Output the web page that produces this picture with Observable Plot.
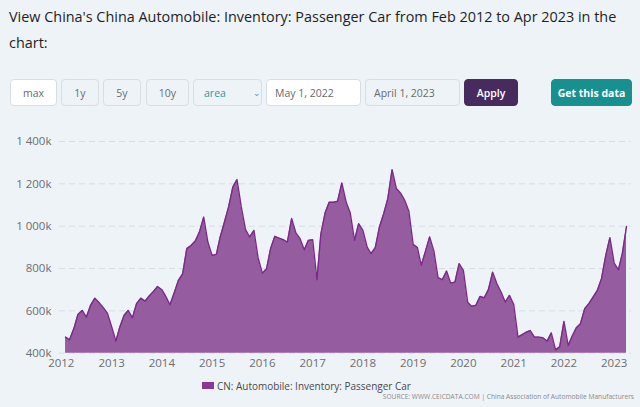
<!DOCTYPE html>
<html><head><meta charset="utf-8">
<script src="https://cdn.jsdelivr.net/npm/d3@7"></script>
<script src="https://cdn.jsdelivr.net/npm/@observablehq/plot@0.6"></script>
<style>
html,body{margin:0;padding:0;background:#eef3f8;width:640px;height:407px;overflow:hidden;font-family:"Open Sans",sans-serif;}
#title{position:absolute;left:9px;top:4px;font-size:16px;line-height:26px;color:#1f1f1f;white-space:nowrap;}
.btn{position:absolute;top:79px;height:27px;box-sizing:border-box;border:1px solid #d6dee6;border-radius:4px;font-size:10.5px;color:#6b6b6b;display:flex;align-items:center;justify-content:center;background:#eef3f8;}
.left{justify-content:flex-start;padding-left:8px;}
#chart{position:absolute;left:0;top:128px;}
#legend{position:absolute;left:202px;top:377px;height:17px;display:flex;align-items:center;font-size:11px;color:#4a4a4a;white-space:nowrap;}
#legend .sw{width:12px;height:7px;background:#8b3796;margin-right:3px;}
#source{position:absolute;right:6px;top:392px;font-size:7px;color:#8a8a8a;white-space:nowrap;}
</style></head>
<body>
<div id="title"><span id="t1">View China's China Automobile: Inventory: Passenger Car from Feb 2012 to Apr 2023 in the</span><br>chart:</div>
<div class="btn" style="left:10px;width:47px;background:#fff;">max</div>
<div class="btn" style="left:61px;width:38px;">1y</div>
<div class="btn" style="left:103px;width:38px;">5y</div>
<div class="btn" style="left:146px;width:43px;">10y</div>
<div class="btn left" style="left:193px;width:69px;padding-left:10px;color:#2a9a9b;">area<span style="position:absolute;left:59px;top:6px;color:#888;font-size:9px;">&#8964;</span></div>
<div class="btn left" style="left:266px;width:95px;background:#fff;">May 1, 2022</div>
<div class="btn left" style="left:365px;width:95px;">April 1, 2023</div>
<div class="btn" style="left:464px;width:54px;background:#472b5e;border-color:#472b5e;color:#fff;font-weight:600;">Apply</div>
<div class="btn" style="left:551px;width:81px;background:#17908f;border-color:#17908f;color:#fff;font-weight:700;">Get this data</div>
<div id="chart"></div>
<div id="legend"><div class="sw"></div><span id="legtext">CN: Automobile: Inventory: Passenger Car</span></div>
<div id="source">SOURCE: WWW.CEICDATA.COM | China Association of Automobile Manufacturers</div>
<script>
// Inventory, thousand units, monthly from Feb 2012 to Apr 2023
const v2012 = [476, 463, 515, 583, 602, 570, 626, 660, 640, 615, 589]; // Feb-Dec
const v2013 = [525, 457, 523, 578, 602, 567, 634, 660, 646, 670, 692, 715];
const v2014 = [700, 665, 629, 686, 744, 775, 894, 909, 930, 972, 1043, 925];
const v2015 = [862, 867, 949, 1020, 1091, 1185, 1220, 1091, 984, 949, 980, 851];
const v2016 = [778, 799, 894, 952, 944, 936, 925, 1036, 968, 941, 889, 933];
const v2017 = [936, 747, 961, 1062, 1113, 1113, 1118, 1204, 1114, 1062, 933, 1012];
const v2018 = [980, 901, 870, 899, 996, 1059, 1130, 1267, 1178, 1157, 1122, 1070];
const v2019 = [914, 899, 815, 882, 949, 882, 757, 747, 788, 731, 736, 823];
const v2020 = [791, 641, 622, 626, 668, 662, 700, 783, 728, 689, 641, 673];
const v2021 = [630, 476, 487, 499, 507, 476, 476, 473, 457, 496, 416, 430];
const v2022 = [550, 436, 479, 520, 539, 610, 634, 665, 697, 752, 862, 946];
const v2023 = [826, 794, 870, 999]; // Jan-Apr
const values = [].concat(v2012, v2013, v2014, v2015, v2016, v2017, v2018, v2019, v2020, v2021, v2022, v2023);
const startMonth = new Date(Date.UTC(2012, 1, 1));
const dates = values.map((_, i) => d3.utcMonth.offset(startMonth, i));
const data = values.map((v, i) => ({date: dates[i], value: v}));

const yTicks = [400, 600, 800, 1000, 1200, 1400];
const yTickLabels = ["400k", "600k", "800k", "1 000k", "1 200k", "1 400k"];
const xYears = [2012, 2013, 2014, 2015, 2016, 2017, 2018, 2019, 2020, 2021, 2022, 2023];
const xTicks = xYears.map(y => new Date(Date.UTC(y, 0, 1)));

// fit title line width
const t1 = document.getElementById("t1");
const w1 = t1.getBoundingClientRect().width;
document.getElementById("title").style.fontSize = (16 * 608 / w1) + "px";
const lt = document.getElementById("legtext");
const wl = lt.getBoundingClientRect().width;
document.getElementById("legend").style.fontSize = (11 * 194 / wl) + "px";
const src = document.getElementById("source");
const ws = src.getBoundingClientRect().width;
src.style.fontSize = (7 * 252 / ws) + "px";

const chart = Plot.plot({
  width: 640,
  height: 250,
  marginTop: 13,
  marginBottom: 25.3,
  marginLeft: 59,
  marginRight: 9,
  style: {background: "transparent", fontFamily: "Open Sans", fontSize: "11.5px", color: "#6e6e6e", overflow: "visible"},
  x: {type: "utc", domain: [new Date(Date.UTC(2011, 11, 19)), new Date(Date.UTC(2023, 4, 7))], ticks: xTicks, tickFormat: d => String(d.getUTCFullYear()), tickSize: 0, tickPadding: 6, label: null},
  y: {domain: [400, 1400], ticks: yTicks, tickFormat: d => yTickLabels[yTicks.indexOf(d)], tickSize: 0, tickPadding: 8, label: null},
  marks: [
    Plot.ruleY(yTicks, {stroke: "#d6dde5", strokeDasharray: "6,4", strokeWidth: 1}),
    Plot.areaY(data, {x: "date", y1: 400, y2: "value", fill: "#955c9f"}),
    Plot.lineY(data, {x: "date", y: "value", stroke: "#7a2b88", strokeWidth: 1.4})
  ]
});
document.getElementById("chart").appendChild(chart);
</script>
</body></html>
